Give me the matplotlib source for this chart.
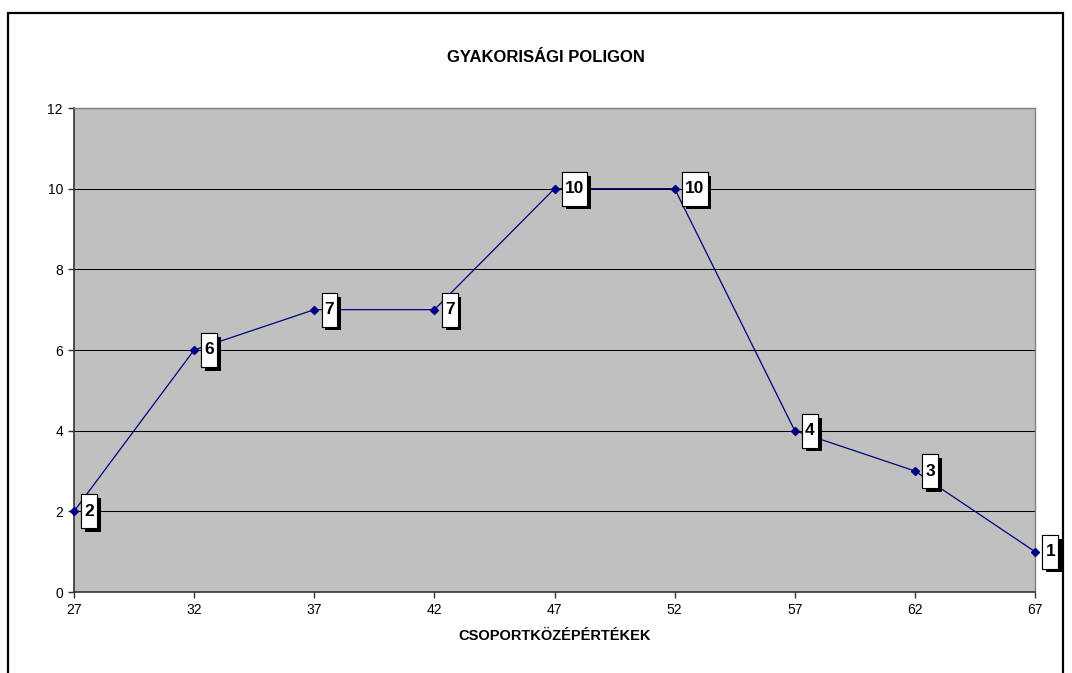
import numpy as np
import matplotlib
matplotlib.use("Agg")
import matplotlib.pyplot as plt
from matplotlib.path import Path
from matplotlib.patches import Rectangle
import matplotlib.patheffects as pe

plt.rcParams['font.family'] = ['Liberation Sans', 'DejaVu Sans']

# csoportközépértékek és gyakoriságok
kozepek = [27, 32, 37, 42, 47, 52, 57, 62, 67]
gyakorisag = [2, 6, 7, 7, 10, 10, 4, 3, 1]
y_ticks = [0, 2, 4, 6, 8, 10, 12]


def label_box(x0, y0, width, height, mutation_size):
    # magasabb, keskeny címkedoboz (vízszintes és függőleges margó külön)
    px = 0.18 * mutation_size
    py = 0.54 * mutation_size
    x0, y0 = x0 - px, y0 - py
    x1, y1 = x0 + width + 2 * px, y0 + height + 2 * py
    return Path([(x0, y0), (x1, y0), (x1, y1), (x0, y1), (x0, y0)], closed=True)


fig = plt.figure(figsize=(10.72, 6.73), dpi=100)
ax = fig.add_axes([74 / 1072, 1 - 592 / 673, (1035 - 74) / 1072, (592 - 108) / 673])

# külső keret
fig.patches.append(Rectangle((8 / 1072, -0.05), (1063 - 8) / 1072, 1 - 13 / 673 + 0.05,
                             transform=fig.transFigure, fill=False,
                             edgecolor='black', linewidth=1.6))

ax.set_facecolor('#C0C0C0')
ax.set_xlim(27, 67)
ax.set_ylim(0, 12)
ax.set_xticks(kozepek)
ax.set_yticks(y_ticks)
ax.tick_params(axis='both', direction='out', length=4, width=1, labelsize=10,
               color='#333333', pad=4)
ax.yaxis.grid(True, color='black', linewidth=0.75)
ax.set_axisbelow(True)
for s in ['top', 'right']:
    ax.spines[s].set_color('#808080')
    ax.spines[s].set_linewidth(1)
for s in ['left', 'bottom']:
    ax.spines[s].set_color('#333333')
    ax.spines[s].set_linewidth(1.2)

ax.plot(kozepek, gyakorisag, color='#000080', linewidth=0.9, marker='D',
        markersize=4, clip_on=False, zorder=3)

for x, y in zip(kozepek, gyakorisag):
    t = ax.annotate(str(y), xy=(x, y), xytext=(7.5, 0), textcoords='offset points',
                    ha='left', va='center', fontsize=12.5, fontweight='bold',
                    annotation_clip=False, zorder=5,
                    bbox=dict(boxstyle=label_box, facecolor='white',
                              edgecolor='black', linewidth=0.8))
    t.get_bbox_patch().set_path_effects([
        pe.withSimplePatchShadow(offset=(2.8, -2.8), shadow_rgbFace='black', alpha=1.0),
        pe.Normal()])

fig.text(546 / 1072, 1 - 58 / 673, 'GYAKORISÁGI POLIGON', ha='center', va='center',
         fontsize=12, fontweight='bold')
fig.text(555 / 1072, 1 - 636 / 673, 'CSOPORTKÖZÉPÉRTÉKEK', ha='center', va='center',
         fontsize=10.5, fontweight='bold')

fig.savefig('out.png', dpi=100)
